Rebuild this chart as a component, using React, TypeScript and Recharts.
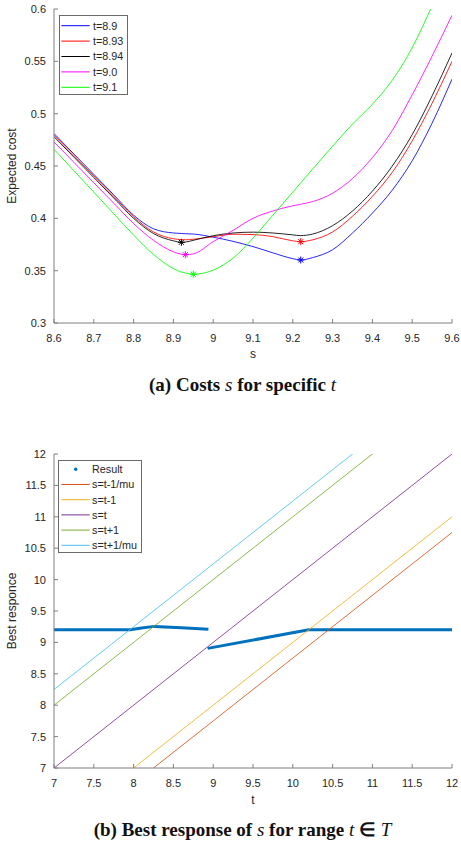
import React from 'react';
import { ComposedChart, Line, Scatter, XAxis, YAxis, Legend, Label } from 'recharts';

// ---------- (a) expected cost against s, one curve per t ----------
const S_GRID = [
  8.6, 8.65, 8.7, 8.75, 8.8, 8.85, 8.9, 8.92, 8.93, 8.95, 9.0, 9.05,
  9.1, 9.15, 9.2, 9.22, 9.25, 9.3, 9.35, 9.4, 9.45, 9.5, 9.55, 9.6,
];
const COST_T_8_9 = [
  0.481, 0.4615, 0.442, 0.4225, 0.403, 0.39, 0.386, 0.3855, 0.3853, 0.385, 0.382, 0.378,
  0.373, 0.367, 0.3615, 0.3602, 0.3625, 0.37, 0.386, 0.405, 0.427, 0.455, 0.491, 0.533,
];
const COST_T_8_93 = [
  0.4795, 0.46, 0.4405, 0.421, 0.4015, 0.387, 0.3805, 0.3797, 0.3795, 0.38, 0.3825, 0.3848,
  0.3845, 0.3825, 0.3785, 0.3777, 0.3795, 0.387, 0.402, 0.421, 0.444, 0.474, 0.51, 0.55,
];
const COST_T_8_94 = [
  0.478, 0.4585, 0.439, 0.4195, 0.4, 0.3855, 0.3785, 0.3771, 0.3773, 0.379, 0.3834, 0.386,
  0.3868, 0.386, 0.3842, 0.3835, 0.385, 0.393, 0.407, 0.426, 0.45, 0.48, 0.517, 0.558,
];
const COST_T_9_0 = [
  0.473, 0.4535, 0.434, 0.4145, 0.395, 0.379, 0.368, 0.3657, 0.3653, 0.366, 0.3777, 0.3885,
  0.4, 0.407, 0.412, 0.4135, 0.416, 0.424, 0.438, 0.458, 0.484, 0.518, 0.555, 0.594,
];
const COST_T_9_1 = [
  0.466, 0.4455, 0.425, 0.4045, 0.384, 0.3655, 0.352, 0.3487, 0.3477, 0.3466, 0.3505, 0.362,
  0.381, 0.403, 0.425, 0.434, 0.447, 0.469, 0.49, 0.509, 0.532, 0.563, 0.603, 0.645,
];
const COST_LABELS = ['t=8.9', 't=8.93', 't=8.94', 't=9.0', 't=9.1'];
const COST_COLORS = ['#0000ff', '#ff0000', '#000000', '#ff00ff', '#00ff00'];
const S_TICKS = [8.6, 8.7, 8.8, 8.9, 9, 9.1, 9.2, 9.3, 9.4, 9.5, 9.6];
const COST_TICKS = [0.3, 0.35, 0.4, 0.45, 0.5, 0.55, 0.6];

// ---------- (b) best response of s over t ----------
const T_ENDS = [7, 12];
const GUIDE_LABELS = ['s=t-1/mu', 's=t-1', 's=t', 's=t+1', 's=t+1/mu'];
const GUIDE_COLORS = ['#D95319', '#EDB120', '#7E2F8E', '#77AC30', '#4DBEEE'];
const GUIDE_AT_T7 = [5.75, 6, 7, 8, 8.25];
const GUIDE_AT_T12 = [10.75, 11, 12, 13, 13.25];
const RESULT_T_LOW = [7, 7.96, 8.1, 8.26, 8.6, 8.94];
const RESULT_S_LOW = [9.2, 9.2, 9.228, 9.255, 9.232, 9.21];
const RESULT_T_HIGH = [8.93, 10.2, 12];
const RESULT_S_HIGH = [8.905, 9.2, 9.2];
const RESULT_COLOR = '#0072BD';
const T_TICKS = [7, 7.5, 8, 8.5, 9, 9.5, 10, 10.5, 11, 11.5, 12];
const BR_TICKS = [7, 7.5, 8, 8.5, 9, 9.5, 10, 10.5, 11, 11.5, 12];

// ---------- styling ----------
const FONT = '"Liberation Sans", Arial, Helvetica, sans-serif';
const SERIF = '"Liberation Serif", "Times New Roman", serif';
const AXIS = '#7f7f7f';
const INK = '#262626';
const THIN = 0.85;
const tickStyle = { fontSize: 11, fill: INK, fontFamily: FONT };
const blank = () => '';

const COST_SERIES = [COST_T_8_9, COST_T_8_93, COST_T_8_94, COST_T_9_0, COST_T_9_1].map((values, i) => ({
  key: `c${i}`,
  label: COST_LABELS[i],
  color: COST_COLORS[i],
  values,
}));

const costRows = S_GRID.map((s, i) => {
  const row: Record<string, number> = { s };
  COST_SERIES.forEach((c) => {
    row[c.key] = c.values[i];
  });
  return row;
});

// the minimum of each cost curve gets an asterisk
const costMinima = COST_SERIES.map((c) => {
  let best = 0;
  c.values.forEach((v, i) => {
    if (v < c.values[best]) best = i;
  });
  return { color: c.color, point: { s: S_GRID[best], v: c.values[best] } };
});

const guideRows = T_ENDS.map((t, j) => {
  const row: Record<string, number> = { t };
  GUIDE_LABELS.forEach((_, i) => {
    row[`g${i}`] = j === 0 ? GUIDE_AT_T7[i] : GUIDE_AT_T12[i];
  });
  return row;
});
const resultLow = RESULT_T_LOW.map((t, i) => ({ t, r: RESULT_S_LOW[i] }));
const resultHigh = RESULT_T_HIGH.map((t, i) => ({ t, r: RESULT_S_HIGH[i] }));

function Asterisk({ cx, cy, color }: { cx?: number; cy?: number; color: string }) {
  if (cx == null || cy == null) return null;
  const a = 3.5;
  const d = 2.5;
  return (
    <g stroke={color} strokeWidth={1}>
      <line x1={cx - a} y1={cy} x2={cx + a} y2={cy} />
      <line x1={cx} y1={cy - a} x2={cx} y2={cy + a} />
      <line x1={cx - d} y1={cy - d} x2={cx + d} y2={cy + d} />
      <line x1={cx - d} y1={cy + d} x2={cx + d} y2={cy - d} />
    </g>
  );
}

type LegendItem = { label: string; color: string; dot?: boolean };

function LegendBox({
  items,
  width,
  height,
  firstRow,
  rowGap,
  lineFrom,
  lineTo,
  dotX,
}: {
  items: LegendItem[];
  width: number;
  height: number;
  firstRow: number;
  rowGap: number;
  lineFrom: number;
  lineTo: number;
  dotX: number;
}) {
  return (
    <svg width={width} height={height} style={{ display: 'block' }}>
      <rect x={0.5} y={0.5} width={width - 1} height={height - 1} fill="#ffffff" stroke="#6a6a6a" strokeWidth={1} />
      {items.map((it, i) => {
        const y = firstRow + i * rowGap;
        return (
          <g key={it.label}>
            {it.dot ? (
              <circle cx={dotX} cy={y} r={1.7} fill={it.color} />
            ) : (
              <line x1={lineFrom} x2={lineTo} y1={y} y2={y} stroke={it.color} strokeWidth={1} />
            )}
            <text x={34} y={y} dy="0.36em" fontSize={10.8} fill={INK} fontFamily={FONT}>
              {it.label}
            </text>
          </g>
        );
      })}
    </svg>
  );
}

const captionStyle: React.CSSProperties = {
  position: 'absolute',
  left: 12,
  width: 461,
  textAlign: 'center',
  fontFamily: SERIF,
  fontWeight: 'bold',
  fontSize: 19,
  lineHeight: '20px',
  color: '#111',
  whiteSpace: 'nowrap',
};
const mathStyle: React.CSSProperties = { fontStyle: 'italic', fontWeight: 'normal' };

function CostChart() {
  const items: LegendItem[] = COST_SERIES.map((c) => ({ label: c.label, color: c.color }));
  return (
    <ComposedChart width={461} height={370} data={costRows} margin={{ top: 9, right: 9, bottom: 7, left: 8 }}>
      <XAxis
        dataKey="s"
        type="number"
        domain={[8.6, 9.6]}
        ticks={S_TICKS}
        interval={0}
        allowDataOverflow
        height={40}
        tickSize={-4}
        tickMargin={15}
        tick={tickStyle}
        axisLine={{ stroke: AXIS }}
        tickLine={{ stroke: AXIS }}
      >
        <Label value="s" position="insideBottom" offset={5} fontSize={12} fill={INK} fontFamily={FONT} />
      </XAxis>
      <XAxis
        xAxisId="top"
        orientation="top"
        dataKey="s"
        type="number"
        domain={[8.6, 9.6]}
        ticks={S_TICKS}
        interval={0}
        allowDataOverflow
        height={0}
        tickSize={-4}
        tickFormatter={blank}
        axisLine={{ stroke: AXIS }}
        tickLine={{ stroke: AXIS }}
      />
      <YAxis
        type="number"
        domain={[0.3, 0.6]}
        ticks={COST_TICKS}
        interval={0}
        allowDataOverflow
        width={46}
        tickSize={-4}
        tickMargin={12}
        tick={tickStyle}
        axisLine={{ stroke: AXIS }}
        tickLine={{ stroke: AXIS }}
      >
        <Label
          value="Expected cost"
          angle={-90}
          position="insideLeft"
          offset={4}
          style={{ textAnchor: 'middle' }}
          fontSize={12}
          fill={INK}
          fontFamily={FONT}
        />
      </YAxis>
      <YAxis
        yAxisId="right"
        orientation="right"
        type="number"
        domain={[0.3, 0.6]}
        ticks={COST_TICKS}
        interval={0}
        allowDataOverflow
        width={0}
        tickSize={-4}
        tickFormatter={blank}
        axisLine={{ stroke: AXIS }}
        tickLine={{ stroke: AXIS }}
      />
      {COST_SERIES.map((c) => (
        <Line
          key={c.key}
          type="monotone"
          dataKey={c.key}
          stroke={c.color}
          strokeWidth={THIN}
          dot={false}
          activeDot={false}
          isAnimationActive={false}
        />
      ))}
      {costMinima.map((m, i) => (
        <Scatter
          key={`min${i}`}
          data={[m.point]}
          dataKey="v"
          isAnimationActive={false}
          shape={(p: any) => <Asterisk cx={p.cx} cy={p.cy} color={m.color} />}
        />
      ))}
      <Legend
        layout="vertical"
        align="center"
        verticalAlign="middle"
        wrapperStyle={{ left: 59, top: 15, width: 69, height: 80 }}
        content={() => (
          <LegendBox items={items} width={69} height={80} firstRow={10.7} rowGap={15.4} lineFrom={2.4} lineTo={30.7} dotX={16} />
        )}
      />
    </ComposedChart>
  );
}

function ResponseChart() {
  const items: LegendItem[] = [
    { label: 'Result', color: RESULT_COLOR, dot: true },
    ...GUIDE_LABELS.map((label, i) => ({ label, color: GUIDE_COLORS[i] })),
  ];
  return (
    <ComposedChart width={461} height={392} data={guideRows} margin={{ top: 34, right: 9, bottom: 4, left: 8 }}>
      <XAxis
        dataKey="t"
        type="number"
        domain={[7, 12]}
        ticks={T_TICKS}
        interval={0}
        allowDataOverflow
        height={40}
        tickSize={-4}
        tickMargin={15}
        tick={tickStyle}
        axisLine={{ stroke: AXIS }}
        tickLine={{ stroke: AXIS }}
      >
        <Label value="t" position="insideBottom" offset={4} fontSize={12} fill={INK} fontFamily={FONT} />
      </XAxis>
      <XAxis
        xAxisId="top"
        orientation="top"
        dataKey="t"
        type="number"
        domain={[7, 12]}
        ticks={T_TICKS}
        interval={0}
        allowDataOverflow
        height={0}
        tickSize={-4}
        tickFormatter={blank}
        axisLine={{ stroke: AXIS }}
        tickLine={{ stroke: AXIS }}
      >
        <Label value="mu=0.8" position="top" offset={4.5} fontSize={12.5} fontWeight="bold" fill="#000" fontFamily={FONT} />
      </XAxis>
      <YAxis
        type="number"
        domain={[7, 12]}
        ticks={BR_TICKS}
        interval={0}
        allowDataOverflow
        width={46}
        tickSize={-4}
        tickMargin={12}
        tick={tickStyle}
        axisLine={{ stroke: AXIS }}
        tickLine={{ stroke: AXIS }}
      >
        <Label
          value="Best responce"
          angle={-90}
          position="insideLeft"
          offset={4}
          style={{ textAnchor: 'middle' }}
          fontSize={12}
          fill={INK}
          fontFamily={FONT}
        />
      </YAxis>
      <YAxis
        yAxisId="right"
        orientation="right"
        type="number"
        domain={[7, 12]}
        ticks={BR_TICKS}
        interval={0}
        allowDataOverflow
        width={0}
        tickSize={-4}
        tickFormatter={blank}
        axisLine={{ stroke: AXIS }}
        tickLine={{ stroke: AXIS }}
      />
      <Line
        data={resultLow}
        type="linear"
        dataKey="r"
        stroke={RESULT_COLOR}
        strokeWidth={3}
        dot={false}
        activeDot={false}
        isAnimationActive={false}
      />
      <Line
        data={resultHigh}
        type="linear"
        dataKey="r"
        stroke={RESULT_COLOR}
        strokeWidth={3}
        dot={false}
        activeDot={false}
        isAnimationActive={false}
      />
      {GUIDE_LABELS.map((label, i) => (
        <Line
          key={label}
          type="linear"
          dataKey={`g${i}`}
          stroke={GUIDE_COLORS[i]}
          strokeWidth={THIN}
          dot={false}
          activeDot={false}
          isAnimationActive={false}
        />
      ))}
      <Legend
        layout="vertical"
        align="center"
        verticalAlign="middle"
        wrapperStyle={{ left: 58, top: 40, width: 84, height: 93 }}
        content={() => (
          <LegendBox items={items} width={84} height={93} firstRow={9.3} rowGap={15.2} lineFrom={3.4} lineTo={31.7} dotX={17.7} />
        )}
      />
    </ComposedChart>
  );
}

export default function App() {
  return (
    <div style={{ position: 'absolute', left: 0, top: 0, width: 461, height: 846, background: '#fff', fontFamily: FONT }}>
      <div style={{ position: 'absolute', left: 0, top: 0 }}>
        <CostChart />
      </div>
      <div style={{ ...captionStyle, top: 375 }}>
        (a) Costs <span style={mathStyle}>s</span> for specific <span style={mathStyle}>t</span>
      </div>
      <div style={{ position: 'absolute', left: 0, top: 420 }}>
        <ResponseChart />
      </div>
      <div style={{ ...captionStyle, top: 820 }}>
        (b) Best response of <span style={mathStyle}>s</span> for range <span style={mathStyle}>t</span> ∈{' '}
        <span style={mathStyle}>T</span>
      </div>
    </div>
  );
}
